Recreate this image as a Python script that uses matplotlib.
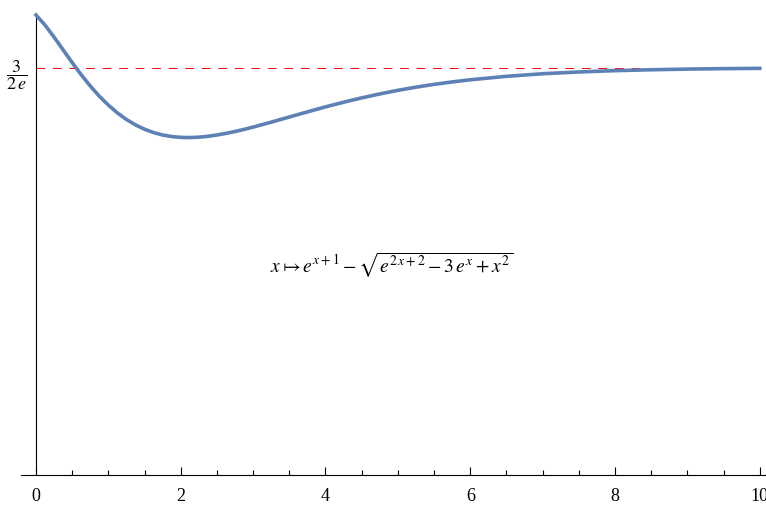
import numpy as np
import matplotlib
matplotlib.use("Agg")
import matplotlib.pyplot as plt
from matplotlib import rcParams

rcParams.update({
    "font.family": "Liberation Serif",
    "mathtext.fontset": "stix",
    "font.size": 12,
})

# f(x) = e^(x+1) - sqrt(e^(2x+2) - 3 e^x + x^2)
x_vals = [0, 0.125, 0.25, 0.375, 0.5, 0.625, 0.75, 0.875, 1, 1.125, 1.25,
          1.375, 1.5, 1.625, 1.75, 1.875, 2, 2.125, 2.25, 2.375, 2.5, 2.625,
          2.75, 2.875, 3, 3.25, 3.5, 3.75, 4, 4.25, 4.5, 4.75, 5, 5.25, 5.5,
          5.75, 6, 6.5, 7, 7.5, 8, 8.5, 9, 9.5, 10]
y_vals = [0.6233, 0.6096, 0.5933, 0.5760, 0.5588, 0.5423, 0.5271, 0.5133,
          0.5012, 0.4906, 0.4817, 0.4744, 0.4685, 0.4640, 0.4607, 0.4586,
          0.4575, 0.4572, 0.4577, 0.4589, 0.4607, 0.4629, 0.4654, 0.4683,
          0.4714, 0.4781, 0.4851, 0.4920, 0.4988, 0.5051, 0.5110, 0.5163,
          0.5212, 0.5255, 0.5293, 0.5326, 0.5355, 0.5402, 0.5437, 0.5461,
          0.5479, 0.5491, 0.5500, 0.5506, 0.5510]
asymptote = 3 / (2 * np.e)
x_ticks = [0, 2, 4, 6, 8, 10]

fig = plt.figure(figsize=(7.66, 5.06), dpi=100)
ax = fig.add_axes([21 / 766, 30 / 506, 746 / 766, 462 / 506])

ax.plot(x_vals, y_vals, color="#5E81B5", lw=2.6, solid_joinstyle="round", zorder=3)
ax.plot([0, 10], [asymptote, asymptote], color="red", lw=0.7,
        dashes=(9, 8), zorder=2)

ax.set_xlim(-0.207, 10.1)
ax.set_ylim(0, 0.626)

for s in ["top", "right"]:
    ax.spines[s].set_visible(False)
ax.spines["left"].set_position(("data", 0))
ax.spines["bottom"].set_position(("data", 0))
ax.spines["left"].set_linewidth(0.8)
ax.spines["bottom"].set_linewidth(0.8)

ax.set_xticks(x_ticks)
ax.set_xticklabels([str(t) for t in x_ticks], fontsize=13)
ax.set_xticks(np.arange(0.5, 10, 0.5), minor=True)
ax.tick_params(axis="x", which="major", direction="in", length=6, width=0.8, pad=9)
ax.tick_params(axis="x", which="minor", direction="in", length=3.5, width=0.8)

ax.set_yticks([asymptote])
ax.set_yticklabels([r"$\dfrac{3}{2\,e}$"])
ax.tick_params(axis="y", direction="in", length=0, pad=6, labelsize=13)

ax.text(4.92, 0.285, r"$x\mapsto e^{x+1}-\sqrt{e^{2\,x+2}-3\,e^{x}+x^{2}}$",
        ha="center", va="center", fontsize=14)

fig.savefig("out.png", dpi=100)
